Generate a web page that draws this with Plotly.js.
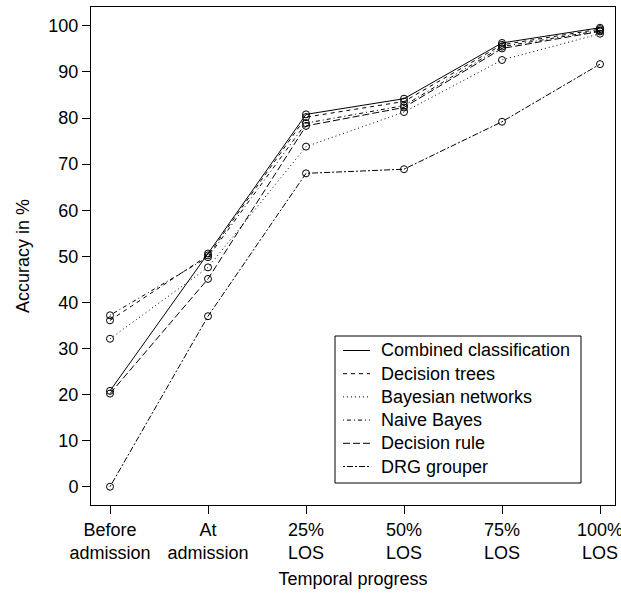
<!DOCTYPE html>
<html>
<head>
<meta charset="utf-8">
<script src="https://cdn.plot.ly/plotly-3.0.1.min.js"></script>
<style>html,body{margin:0;padding:0;background:#fff;}#chart{width:621px;height:597px;}</style>
</head>
<body>
<div id="chart"></div>
<script>
// Data
const categories = ["Before<br>admission", "At<br>admission", "25%<br>LOS", "50%<br>LOS", "75%<br>LOS", "100%<br>LOS"];
const seriesNames = ["Combined classification", "Decision trees", "Bayesian networks", "Naive Bayes", "Decision rule", "DRG grouper"];
const combined      = [20.8, 50.6, 80.8, 84.2, 96.3, 99.6];
const decisionTrees = [36.1, 50.2, 80.2, 83.6, 95.9, 99.3];
const bayesianNets  = [32.1, 47.6, 73.8, 81.3, 92.6, 98.3];
const naiveBayes    = [37.2, 49.8, 78.9, 82.7, 95.5, 99.0];
const decisionRule  = [20.2, 45.1, 78.3, 82.3, 95.1, 98.8];
const drgGrouper    = [0.0, 37.0, 68.0, 68.9, 79.2, 91.7];
const yTicks = [0, 10, 20, 30, 40, 50, 60, 70, 80, 90, 100];

const allSeries = [combined, decisionTrees, bayesianNets, naiveBayes, decisionRule, drgGrouper];
const dashes = ["solid", "4px,4px", "1px,3px", "1px,3px,4px,3px", "7px,3px", "2px,2px,6px,2px"];

const traces = [];
allSeries.forEach((ys, i) => {
  traces.push({
    type: "scatter", mode: "lines", x: categories, y: ys, name: seriesNames[i],
    line: {color: "#000", width: 1, dash: dashes[i]}, showlegend: false
  });
});
allSeries.forEach((ys, i) => {
  traces.push({
    type: "scatter", mode: "markers", x: categories, y: ys, name: seriesNames[i],
    marker: {symbol: "circle-open", size: 7, color: "#000", line: {width: 1, color: "#000"}},
    showlegend: false, hoverinfo: "skip"
  });
});

const font = {family: "Liberation Sans, Arial, Helvetica, sans-serif", size: 18, color: "#000"};

// Legend drawn as layout decoration (plot area: x 91..615 px, y 7..505 px)
const W = 621, H = 597, ml = 91, mr = 6, mt = 7, mb = 92;
const pw = W - ml - mr, ph = H - mt - mb;
const px2x = p => (p - ml) / pw;
const py2y = p => (H - mb - p) / ph;
const leg = {left: 335, right: 581, top: 336, bottom: 483, firstY: 350.5, step: 23.2, lineX0: 343, lineX1: 370, textX: 379};

const shapes = [{
  type: "rect", xref: "paper", yref: "paper",
  x0: px2x(leg.left), x1: px2x(leg.right), y0: py2y(leg.bottom), y1: py2y(leg.top),
  line: {color: "#000", width: 1}, fillcolor: "#fff", layer: "above"
}];
const annotations = [];
seriesNames.forEach((name, i) => {
  const yy = py2y(leg.firstY + i * leg.step);
  shapes.push({
    type: "line", xref: "paper", yref: "paper",
    x0: px2x(leg.lineX0), x1: px2x(leg.lineX1), y0: yy, y1: yy,
    line: {color: "#000", width: 1, dash: dashes[i]}, layer: "above"
  });
  annotations.push({
    xref: "paper", yref: "paper", x: px2x(leg.textX), y: yy,
    xanchor: "left", yanchor: "middle", showarrow: false,
    text: name, font: font
  });
});

const layout = {
  width: W, height: H,
  margin: {l: ml, r: mr, t: mt, b: mb},
  paper_bgcolor: "#fff", plot_bgcolor: "#fff",
  font: font,
  showlegend: false,
  xaxis: {
    type: "category", categoryorder: "array", categoryarray: categories,
    range: [-0.194, 5.153],
    showgrid: false, zeroline: false,
    showline: true, linecolor: "#000", linewidth: 1, mirror: true,
    ticks: "outside", ticklen: 8, tickwidth: 1, tickcolor: "#000",
    tickfont: font,
    title: {text: "Temporal progress", font: font, standoff: 10}
  },
  yaxis: {
    range: [-3.97, 104.1],
    tickvals: yTicks, ticktext: yTicks.map(String),
    showgrid: false, zeroline: false,
    showline: true, linecolor: "#000", linewidth: 1, mirror: true,
    ticks: "outside", ticklen: 8, tickwidth: 1, tickcolor: "#000",
    tickfont: font,
    title: {text: "Accuracy in %", font: font, standoff: 14}
  },
  shapes: shapes,
  annotations: annotations
};

Plotly.newPlot("chart", traces, layout, {displayModeBar: false, staticPlot: true});
</script>
</body>
</html>
